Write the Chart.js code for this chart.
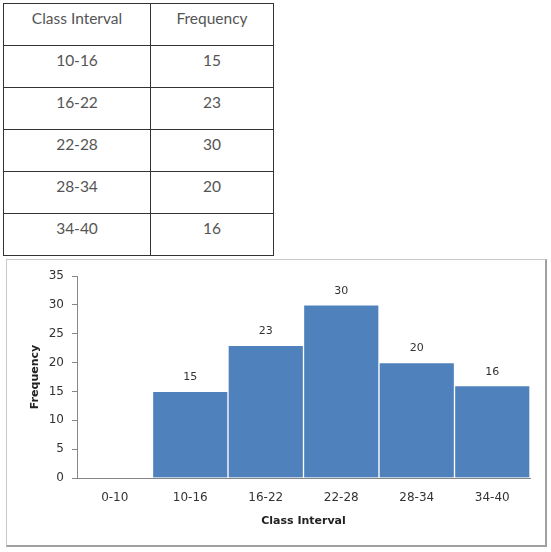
<!DOCTYPE html>
<html>
<head>
<meta charset="utf-8">
<script src="https://cdn.jsdelivr.net/npm/chart.js@4"></script>
<style>
  html, body { margin: 0; padding: 0; background: #ffffff; width: 551px; height: 552px; overflow: hidden; }
  #tbl { position: absolute; left: 3px; top: 3px; border-collapse: collapse; font-family: Lato, "Open Sans", sans-serif; font-size: 15.5px; color: #555; }
  #tbl td { border: 1px solid #333; text-align: center; vertical-align: top; height: 32px; padding: 5px 0 0 0; box-sizing: border-box; }
  #tbl tr { height: 42px; }
  #tbl td.c1 { width: 147px; }
  #tbl td.c2 { width: 123px; }
  #box { position: absolute; left: 6px; top: 259px; width: 538px; height: 285px;
         border-left: 1px solid #c8c8c8; border-top: 1px solid #c8c8c8;
         border-right: 2px solid #a0a0a0; border-bottom: 2px solid #a0a0a0; background: #fff; }
  #box canvas { display: block; }
</style>
</head>
<body>
<table id="tbl"><tbody id="tb"></tbody></table>
<div id="box"><canvas id="c" width="538" height="285"></canvas></div>
<script>
const tableHeaders = ["Class Interval", "Frequency"];
const tableIntervals = ["10-16", "16-22", "22-28", "28-34", "34-40"];
const tableFrequencies = [15, 23, 30, 20, 16];

const categories = ["0-10", "10-16", "16-22", "22-28", "28-34", "34-40"];
const frequencies = [null, 15, 23, 30, 20, 16];
const yTicks = [0, 5, 10, 15, 20, 25, 30, 35];
const xTitle = "Class Interval";
const yTitle = "Frequency";

// build table
const tb = document.getElementById('tb');
function addRow(a, b) {
  const tr = document.createElement('tr');
  const td1 = document.createElement('td'); td1.className = 'c1'; td1.textContent = a;
  const td2 = document.createElement('td'); td2.className = 'c2'; td2.textContent = b;
  tr.appendChild(td1); tr.appendChild(td2); tb.appendChild(tr);
}
addRow(tableHeaders[0], tableHeaders[1]);
tableIntervals.forEach((iv, i) => addRow(iv, String(tableFrequencies[i])));

const valueLabels = {
  id: 'valueLabels',
  afterDatasetsDraw(chart) {
    const ctx = chart.ctx;
    const meta = chart.getDatasetMeta(0);
    ctx.save();
    ctx.font = '11px "DejaVu Sans"';
    ctx.fillStyle = '#333';
    ctx.textAlign = 'center';
    ctx.textBaseline = 'middle';
    meta.data.forEach((bar, i) => {
      const v = chart.data.datasets[0].data[i];
      if (v === null || v === undefined) return;
      ctx.fillText(String(v), bar.x, bar.y - 14);
    });
    ctx.restore();
  }
};

new Chart(document.getElementById('c'), {
  type: 'bar',
  data: {
    labels: categories,
    datasets: [{
      data: frequencies,
      backgroundColor: '#4F81BD',
      borderColor: '#ffffff',
      borderWidth: 1,
      barPercentage: 1,
      categoryPercentage: 1
    }]
  },
  options: {
    responsive: false,
    animation: false,
    events: [],
    layout: { padding: { top: 16, right: 15, left: 0, bottom: 0 } },
    plugins: { legend: { display: false }, tooltip: { enabled: false } },
    scales: {
      x: {
        grid: { display: true, drawOnChartArea: false, drawTicks: false },
        border: { display: true, color: '#868686', width: 1 },
        ticks: { color: '#333', font: { family: 'DejaVu Sans', size: 12 }, padding: 13, maxRotation: 0 },
        title: { display: true, text: xTitle, color: '#222', font: { family: 'DejaVu Sans', size: 11, weight: 'bold' }, padding: { top: 0, bottom: 17 } },
        afterFit(s) { s.height = 67; }
      },
      y: {
        min: 0, max: 35,
        afterBuildTicks(s) { s.ticks = yTicks.map(v => ({ value: v })); },
        grid: { display: true, drawOnChartArea: false, drawTicks: true, tickLength: 5, color: '#868686' },
        border: { display: true, color: '#868686', width: 1 },
        ticks: { color: '#333', font: { family: 'DejaVu Sans', size: 12 }, padding: 8 },
        title: { display: true, text: yTitle, color: '#222', font: { family: 'DejaVu Sans', size: 11, weight: 'bold' }, padding: { top: 22, bottom: 0 } },
        afterFit(s) { s.width = 70; }
      }
    }
  },
  plugins: [valueLabels]
});
</script>
</body>
</html>
